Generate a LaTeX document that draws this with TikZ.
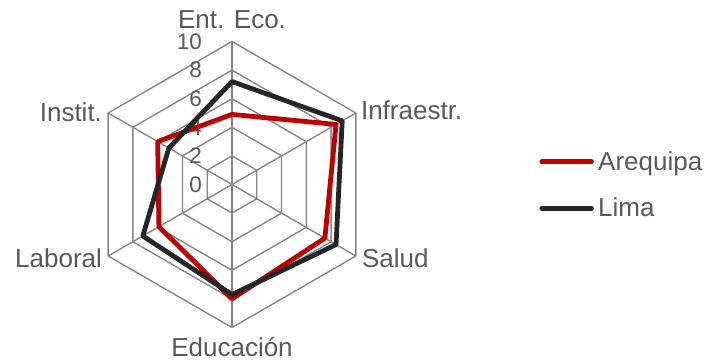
\documentclass[tikz,border=0pt]{standalone}
\usepackage{fontspec}
\setmainfont{Liberation Sans}
\usepackage{tikz}
\usetikzlibrary{positioning}

\definecolor{gridcol}{RGB}{134,134,134}
\definecolor{txtcol}{RGB}{89,89,89}
\definecolor{arqcol}{RGB}{192,0,0}
\definecolor{limcol}{RGB}{38,38,38}
\newcommand{\ru}{14.3}% bp per unit of the scale

\begin{document}
\begin{tikzpicture}[x=1bp,y=1bp,line join=round,
  gridline/.style={draw=gridcol,line width=1.4bp},
  serie/.style={line width=4.8bp,line join=round},
  axlbl/.style={text=txtcol,inner sep=0pt,font=\fontsize{26bp}{28bp}\selectfont},
  ticklbl/.style={text=txtcol,inner sep=0pt,anchor=east,font=\fontsize{22.5bp}{26bp}\selectfont}]
\useasboundingbox (0,0) rectangle (708,363);
\begin{scope}[shift={(232,178.5)}]
  % grid: hexagons
  \foreach \v in {2,4,...,10}
    \draw[gridline] (90:\v*\ru) -- (30:\v*\ru) -- (-30:\v*\ru) -- (-90:\v*\ru)
      -- (-150:\v*\ru) -- (150:\v*\ru) -- cycle;
  % grid: spokes
  \coordinate (ctr) at (0,0);
  \coordinate (eco) at (90:10*\ru);
  \coordinate (inf) at (30:10*\ru);
  \coordinate (sal) at (-30:10*\ru);
  \coordinate (edu) at (-90:10*\ru);
  \coordinate (lab) at (-150:10*\ru);
  \coordinate (ins) at (150:10*\ru);
  \foreach \c in {eco,inf,sal,edu,lab,ins}
    \draw[gridline] (ctr) -- (\c);
  % scale
  \foreach \v in {0,2,...,10}
    \node[ticklbl] (t\v) at (-30,\v*\ru) {\v};
  % Serie: Arequipa
  \draw[serie,draw=arqcol] (90:4.9*\ru) -- (30:8.4*\ru) -- (-30:7.5*\ru) -- (-90:8.0*\ru)
    -- (-150:5.9*\ru) -- (150:6.0*\ru) -- cycle;
  % Serie: Lima
  \draw[serie,draw=limcol] (90:7.2*\ru) -- (30:8.9*\ru) -- (-30:8.4*\ru) -- (-90:7.7*\ru)
    -- (-150:7.2*\ru) -- (150:5.1*\ru) -- cycle;
\end{scope}
% axis labels
\node[axlbl,above=13bp of eco] (lbleco) {Ent. Eco.};
\node[axlbl,right=5bp of inf,yshift=3bp] (lblinf) {Infraestr.};
\node[axlbl,right=6bp of sal,yshift=-2bp] (lblsal) {Salud};
\node[axlbl,below=10bp of edu] (lbledu) {Educación};
\node[axlbl,left=6bp of lab,yshift=-2bp] (lbllab) {Laboral};
\node[axlbl,left=6bp of ins,yshift=1bp] (lblins) {Instit.};
% legend
\coordinate (legarq) at (541.8,201.3);
\coordinate (leglim) at (541.8,154.7);
\node[axlbl,anchor=base west] (arq) at (598,192.3) {Arequipa};
\node[axlbl,anchor=base west] (lim) at (598,147) {Lima};
\draw[serie,draw=arqcol,line cap=round] (legarq) -- ([xshift=-6.5bp]legarq -| arq.west);
\draw[serie,draw=limcol,line cap=round] (leglim) -- ([xshift=-6.5bp]leglim -| lim.west);
\end{tikzpicture}
\end{document}
